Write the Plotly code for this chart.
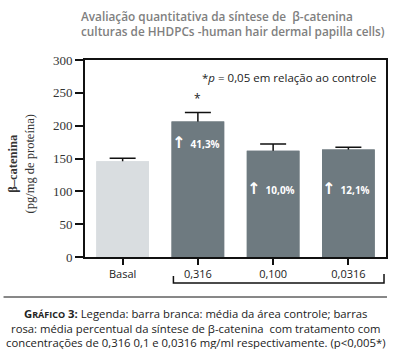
import plotly.graph_objects as go

categories = ["Basal", "0,316", "0,100", "0,0316"]
values = [146, 206.4, 161.7, 163.7]
errors = [4.5, 13.6, 10.2, 3.6]
pct_labels = ["", "41,3%", "10,0%", "12,1%"]
pct_label_y = [None, 175, 105, 105]
bar_colors = ["#d9dde0", "#6e7a80", "#6e7a80", "#6e7a80"]
y_ticks = [0, 50, 100, 150, 200, 250, 300]

W, H = 399, 349
L, R, T, B = 85, 388, 60, 257


def px(x):
    return (x - L) / (R - L)


def py(y):
    return (B - y) / (B - T)


xs = list(range(len(categories)))

fig = go.Figure()
fig.add_trace(go.Bar(
    x=xs, y=values, width=0.7, marker=dict(color=bar_colors, line=dict(width=0)),
    error_y=dict(type="data", array=errors, symmetric=True, color="#111", thickness=1.5, width=13),
    showlegend=False, hoverinfo="skip"))
fig.add_trace(go.Bar(
    x=xs, y=values, width=0.7, marker=dict(color=bar_colors, line=dict(width=0)),
    showlegend=False, hoverinfo="skip"))

fig.update_layout(
    width=W, height=H, barmode="overlay",
    margin=dict(l=L, r=W - R, t=T, b=H - B, pad=0),
    paper_bgcolor="white", plot_bgcolor="white",
    font=dict(family="Open Sans", color="#222"),
    xaxis=dict(range=[-0.5, 3.5], tickmode="array", tickvals=xs, ticktext=categories,
               ticks="outside", ticklen=6, tickwidth=2, tickcolor="#111",
               showline=True, linecolor="#111", linewidth=2, mirror=True,
               showgrid=False, zeroline=False,
               tickfont=dict(family="Open Sans", size=11, color="#222")),
    yaxis=dict(range=[0, 300], tickmode="array", tickvals=y_ticks,
               ticks="outside", ticklen=8, tickwidth=2, tickcolor="#111",
               showline=True, linecolor="#111", linewidth=2, mirror=True,
               showgrid=False, zeroline=False,
               tickfont=dict(family="Liberation Serif", size=13, color="#333")),
)

anns = []
# title
anns.append(dict(xref="paper", yref="paper", x=px(79), y=py(6), xanchor="left", yanchor="top",
                 align="left", showarrow=False,
                 text="Avaliação quantitativa da síntese de  β-catenina<br>culturas de HHDPCs -human hair dermal papilla cells)",
                 font=dict(family="Open Sans", size=11.8, color="#808080", weight=600)))
# y title
anns.append(dict(xref="paper", yref="paper", x=px(21), y=py(164), xanchor="center", yanchor="middle",
                 textangle=-90, showarrow=False,
                 text="<b>β–catenina</b><br>(pg/mg de proteína)",
                 font=dict(family="Liberation Serif", size=12.5, color="#333")))
# significance note
anns.append(dict(xref="paper", yref="paper", x=px(290), y=py(77), xanchor="center", yanchor="middle",
                 showarrow=False, text="*<i>p</i> = 0,05 em relação ao controle",
                 font=dict(family="Open Sans", size=11.5, color="#222")))
# asterisk
anns.append(dict(xref="x", yref="y", x=1, y=values[1] + errors[1], yanchor="bottom",
                 yshift=4, showarrow=False, text="*",
                 font=dict(family="Open Sans", size=12, color="#222")))
# percent labels
for i, lab in enumerate(pct_labels):
    if lab:
        anns.append(dict(xref="x", yref="y", x=i, y=pct_label_y[i], xanchor="center", yanchor="middle",
                         xshift=-2, showarrow=False,
                         text="<span style='font-size:16px;font-family:DejaVu Sans'>↑</span>  " + lab,
                         font=dict(family="Open Sans", size=10, color="white", weight=700)))
# caption
anns.append(dict(xref="paper", yref="paper", x=px(197), y=py(304), xanchor="center", yanchor="top",
                 align="center", showarrow=False,
                 text="<b>G<span style='font-size:9px'>RÁFICO</span> 3:</b> Legenda: barra branca: média da área controle; barras"
                      "<br>rosa: média percentual da síntese de β-catenina  com tratamento com"
                      "<br>concentrações de 0,316 0,1 e 0,0316 mg/ml respectivamente. (p&lt;0,005*)",
                 font=dict(family="Open Sans", size=11.3, color="#222")))
fig.update_layout(annotations=anns)

shapes = []
# bracket under concentrations
shapes.append(dict(type="path", xref="paper", yref="paper",
                   path=f"M {px(174)} {py(276)} L {px(174)} {py(283)} L {px(386)} {py(283)} L {px(386)} {py(274)}",
                   line=dict(color="#111", width=1.5)))
# separator
shapes.append(dict(type="line", xref="paper", yref="paper", x0=px(3), x1=px(389), y0=py(297), y1=py(297),
                   line=dict(color="#111", width=1)))
fig.update_layout(shapes=shapes)

fig.write_html("out.html")
